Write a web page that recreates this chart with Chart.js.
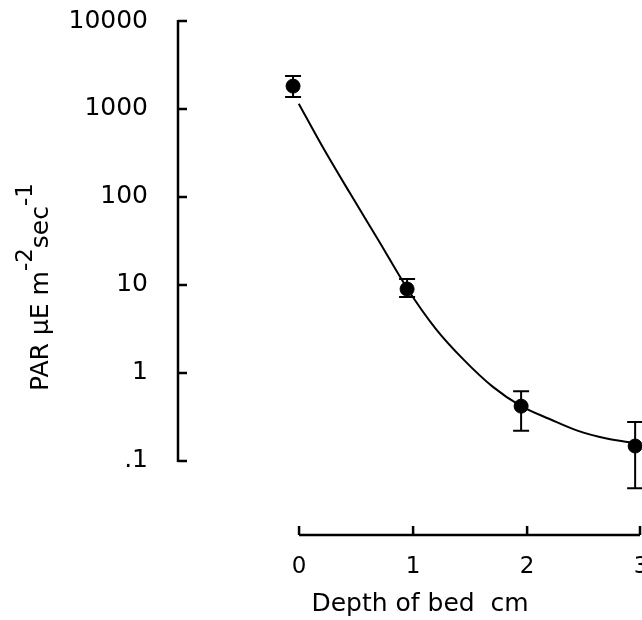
<!DOCTYPE html>
<html>
<head>
<meta charset="utf-8">
<script src="https://cdn.jsdelivr.net/npm/chart.js@4"></script>
<style>
  html, body { margin: 0; padding: 0; background: #fff; overflow: hidden; }
  #wrap { width: 642px; height: 620px; }
</style>
</head>
<body>
<div id="wrap"><canvas id="myChart"></canvas></div>
<script>
// measured points with error bars
const depths = [0, 1, 2, 3];
const par = [1820, 9.0, 0.42, 0.148];
const parLow = [1370, 7.3, 0.22, 0.049];
const parHigh = [2370, 11.7, 0.62, 0.277];

// fitted curve
const curveDepths = [0.05, 0.25, 0.5, 0.75, 1, 1.25, 1.5, 1.75, 2, 2.25, 2.5, 2.75, 3];
const curvePar = [1150, 390, 110, 32, 9.2, 3.2, 1.4, 0.7, 0.42, 0.3, 0.22, 0.18, 0.16];

const yTicks = [0.1, 1, 10, 100, 1000, 10000];
const yTickLabels = ['.1', '1', '10', '100', '1000', '10000'];
const xTicks = [0, 1, 2, 3];
const xTitle = 'Depth of bed  cm';

Chart.defaults.font.family = '"DejaVu Sans", sans-serif';
Chart.defaults.color = '#000';

// axis lines with inward ticks, only over the labelled range
const axesPlugin = {
  id: 'axes',
  afterDatasetsDraw(chart) {
    const ctx = chart.ctx;
    const xs = chart.scales.x, ys = chart.scales.y;
    const area = chart.chartArea;
    ctx.save();
    ctx.strokeStyle = '#000';
    ctx.lineWidth = 2.5;
    ctx.beginPath();
    const ax = area.left;
    ctx.moveTo(ax, ys.getPixelForValue(yTicks[0]) + 1);
    ctx.lineTo(ax, ys.getPixelForValue(yTicks[yTicks.length - 1]) - 1);
    yTicks.forEach(v => {
      const py = ys.getPixelForValue(v);
      ctx.moveTo(ax, py);
      ctx.lineTo(ax + 9, py);
    });
    const ay = area.bottom;
    const x0 = xs.getPixelForValue(xTicks[0]) + 6;
    const x1 = Math.min(xs.getPixelForValue(xTicks[xTicks.length - 1]) + 5, chart.width - 2);
    ctx.moveTo(x0, ay);
    ctx.lineTo(x1, ay);
    xTicks.forEach(v => {
      const px = Math.min(xs.getPixelForValue(v) + 6, x1);
      ctx.moveTo(px, ay);
      ctx.lineTo(px, ay - 9);
    });
    ctx.stroke();

    // x title
    ctx.font = '25px "DejaVu Sans"';
    ctx.fillStyle = '#000';
    ctx.textAlign = 'center';
    ctx.textBaseline = 'middle';
    ctx.fillText(xTitle, (area.left + chart.width) / 2 + 10, 604);
    ctx.restore();
  }
};

const errorBarPlugin = {
  id: 'errorBars',
  afterDatasetsDraw(chart) {
    const ctx = chart.ctx;
    const xs = chart.scales.x, ys = chart.scales.y;
    ctx.save();
    ctx.strokeStyle = '#000';
    ctx.lineWidth = 2;
    ctx.beginPath();
    depths.forEach((d, i) => {
      const px = xs.getPixelForValue(d);
      const lo = ys.getPixelForValue(parLow[i]);
      const hi = ys.getPixelForValue(parHigh[i]);
      ctx.moveTo(px, lo); ctx.lineTo(px, hi);
      ctx.moveTo(px - 8, lo); ctx.lineTo(px + 8, lo);
      ctx.moveTo(px - 8, hi); ctx.lineTo(px + 8, hi);
    });
    ctx.stroke();
    ctx.restore();
  }
};

// rotated y title with superscripts
const yTitlePlugin = {
  id: 'yTitle',
  afterDraw(chart) {
    const ctx = chart.ctx;
    ctx.save();
    ctx.translate(48, 391);
    ctx.rotate(-Math.PI / 2);
    ctx.fillStyle = '#000';
    ctx.textBaseline = 'alphabetic';
    const parts = [['PAR µE m', 25, 0], ['-2', 23, 16], ['sec', 25, 0], ['-1', 23, 16]];
    let pos = 0;
    parts.forEach(p => {
      ctx.font = p[1] + 'px "DejaVu Sans"';
      ctx.fillText(p[0], pos, -p[2]);
      pos += ctx.measureText(p[0]).width;
    });
    ctx.restore();
  }
};

const data = {
  datasets: [{
    label: 'fit',
    data: curveDepths.map((d, i) => ({x: d, y: curvePar[i]})),
    showLine: true,
    borderColor: '#000',
    borderWidth: 2,
    pointRadius: 0,
    cubicInterpolationMode: 'monotone',
    clip: false
  }, {
    label: 'PAR',
    data: depths.map((d, i) => ({x: d, y: par[i]})),
    backgroundColor: '#000',
    borderColor: '#000',
    pointRadius: 7,
    pointStyle: 'circle',
    clip: false
  }]
};

const config = {
  type: 'scatter',
  data: data,
  options: {
    animation: false,
    maintainAspectRatio: false,
    responsive: true,
    layout: { padding: { top: 21, left: 0, right: 0, bottom: 0 } },
    plugins: {
      legend: { display: false },
      title: { display: false },
      tooltip: { enabled: false }
    },
    scales: {
      x: {
        type: 'linear',
        min: -1.009,
        max: 2.99,
        grid: { display: false },
        border: { display: false },
        afterBuildTicks: s => { s.ticks = xTicks.map(v => ({value: v})); },
        afterFit: s => { s.height = 85; s.paddingLeft = 0; s.paddingRight = 0; },
        ticks: { font: { size: 23 }, padding: 10, labelOffset: 6, callback: v => String(v) }
      },
      y: {
        type: 'logarithmic',
        min: 0.01442,
        max: 10000,
        grid: { display: false },
        border: { display: false },
        afterBuildTicks: s => { s.ticks = yTicks.map(v => ({value: v})); },
        afterFit: s => { s.width = 178; s.paddingTop = 0; s.paddingBottom = 0; s.paddingLeft = 0; s.paddingRight = 0; },
        ticks: { font: { size: 25 }, padding: 22, callback: v => yTickLabels[yTicks.indexOf(v)] }
      }
    }
  },
  plugins: [axesPlugin, errorBarPlugin, yTitlePlugin]
};

const myChart = new Chart(
  document.getElementById('myChart'),
  config
);
</script>
</body>
</html>
